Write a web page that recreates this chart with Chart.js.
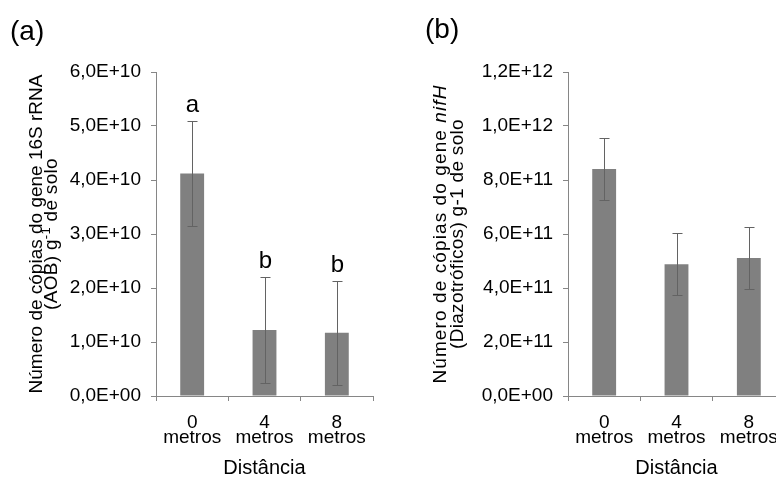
<!DOCTYPE html>
<html>
<head>
<meta charset="utf-8">
<script src="https://cdn.jsdelivr.net/npm/chart.js@4.4.0/dist/chart.umd.min.js"></script>
<style>
  body { margin: 0; width: 776px; height: 480px; overflow: hidden; background: #fff; }
  canvas { position: absolute; top: 0; }
</style>
</head>
<body>
<canvas id="chartA" width="388" height="480" style="left:0"></canvas>
<canvas id="chartB" width="410" height="480" style="left:388px"></canvas>
<script>
// Data
var distLabels = [['0', 'metros'], ['4', 'metros'], ['8', 'metros']];
var aobMeans = [4.12e10, 1.22e10, 1.17e10];
var aobErrors = [0.98e10, 0.98e10, 0.96e10];
var aobLetters = ['a', 'b', 'b'];
var nifMeans = [8.41e11, 4.88e11, 5.11e11];
var nifErrors = [1.15e11, 1.15e11, 1.16e11];
var nifLetters = ['', '', ''];

var FONT = '"Liberation Sans", Arial, sans-serif';
var AXIS = '#868686';

// 6.0e+10 -> 6,0E+10 (Excel style)
function sci(v) {
  var parts = Number(v).toExponential(1).split('e');
  var exp = parts[1];
  return parts[0].replace('.', ',') + 'E' + exp[0] + exp.slice(1).padStart(2, '0');
}

// error bars + significance letters
var errorBars = {
  id: 'errorBars',
  afterDatasetsDraw: function(chart) {
    var ctx = chart.ctx;
    var ds = chart.data.datasets[0];
    var meta = chart.getDatasetMeta(0);
    var y = chart.scales.y;
    ctx.save();
    ctx.strokeStyle = '#636363';
    ctx.lineWidth = 1;
    ctx.fillStyle = '#000';
    ctx.font = '24px ' + FONT;
    ctx.textAlign = 'center';
    ctx.textBaseline = 'alphabetic';
    ds.data.forEach(function(v, i) {
      var err = ds.errors[i];
      var x = Math.round(meta.data[i].x) + 0.5;
      var top = Math.round(y.getPixelForValue(v + err)) + 0.5;
      var bot = Math.round(y.getPixelForValue(v - err)) + 0.5;
      ctx.beginPath();
      ctx.moveTo(x, top); ctx.lineTo(x, bot);
      ctx.moveTo(x - 5, top); ctx.lineTo(x + 5, top);
      ctx.moveTo(x - 5, bot); ctx.lineTo(x + 5, bot);
      ctx.stroke();
      if (ds.letters[i]) ctx.fillText(ds.letters[i], x, top - 10);
    });
    ctx.restore();
  }
};

// panel label and rotated y title with mixed fonts
function panelText(opts) {
  return {
    id: 'panelText',
    afterDraw: function(chart) {
      var ctx = chart.ctx, area = chart.chartArea;
      ctx.save();
      ctx.fillStyle = '#000';
      ctx.textBaseline = 'alphabetic';
      ctx.textAlign = 'left';
      ctx.font = '28px ' + FONT;
      ctx.fillText(opts.panel, opts.panelX, opts.panelY);
      var cy = (area.top + area.bottom) / 2;
      opts.lines.forEach(function(line) {
        ctx.save();
        ctx.translate(line.x, cy);
        ctx.rotate(-Math.PI / 2);
        ctx.letterSpacing = line.spacing || '0px';
        var total = 0;
        line.runs.forEach(function(r) { ctx.font = r.font; total += ctx.measureText(r.text).width; });
        var pos = -total / 2;
        line.runs.forEach(function(r) {
          ctx.font = r.font;
          ctx.fillText(r.text, pos, r.dy || 0);
          pos += ctx.measureText(r.text).width;
        });
        ctx.restore();
      });
      ctx.restore();
    }
  };
}

function makeConfig(means, errors, letters, max, step, yWidth, padRight, extra) {
  return {
    type: 'bar',
    data: {
      labels: distLabels,
      datasets: [{
        data: means,
        errors: errors,
        letters: letters,
        backgroundColor: '#808080',
        borderWidth: 0,
        categoryPercentage: 1,
        barPercentage: 0.33
      }]
    },
    options: {
      responsive: false,
      animation: false,
      layout: { padding: { top: 72, right: padRight, left: 0, bottom: 0 } },
      plugins: { legend: { display: false }, tooltip: { enabled: false } },
      scales: {
        x: {
          offset: true,
          grid: { offset: true, drawOnChartArea: false, tickLength: 5, color: AXIS },
          border: { color: AXIS },
          ticks: { color: '#000', font: { family: FONT, size: 19, lineHeight: 0.8 }, padding: 14, maxRotation: 0 },
          title: { display: true, text: 'Distância', color: '#000', font: { family: FONT, size: 20 }, padding: 0 },
          afterFit: function(s) { s.height = 84; }
        },
        y: {
          min: 0,
          max: max,
          grid: { drawOnChartArea: false, tickLength: 5, color: AXIS },
          border: { color: AXIS },
          ticks: { stepSize: step, callback: sci, color: '#000', font: { family: FONT, size: 19 }, padding: 10 },
          afterFit: function(s) { s.width = yWidth; }
        }
      }
    },
    plugins: [errorBars, extra]
  };
}

var F19 = '19px ' + FONT;

var configA = makeConfig(aobMeans, aobErrors, aobLetters, 6e10, 1e10, 156, 15, panelText({
  panel: '(a)', panelX: 10, panelY: 40,
  lines: [
    { x: 41.5, runs: [{ text: 'Número de cópias do gene 16S rRNA', font: F19 }] },
    { x: 57, spacing: '0.3px', runs: [
      { text: '(AOB) g', font: F19 },
      { text: '-1', font: '13px ' + FONT, dy: -7 },
      { text: ' de solo', font: F19 }
    ] }
  ]
}));

var configB = makeConfig(nifMeans, nifErrors, nifLetters, 1.2e12, 2e11, 180, 13, panelText({
  panel: '(b)', panelX: 37, panelY: 38,
  lines: [
    { x: 57.5, spacing: '1.1px', runs: [
      { text: 'Número de cópias do gene ', font: F19 },
      { text: 'nifH', font: 'italic ' + F19 }
    ] },
    { x: 75, spacing: '0.3px', runs: [{ text: '(Diazotróficos) g-1 de solo', font: F19 }] }
  ]
}));

var chartA = new Chart(document.getElementById('chartA').getContext('2d'), configA);
var chartB = new Chart(document.getElementById('chartB').getContext('2d'), configB);
</script>
</body>
</html>
